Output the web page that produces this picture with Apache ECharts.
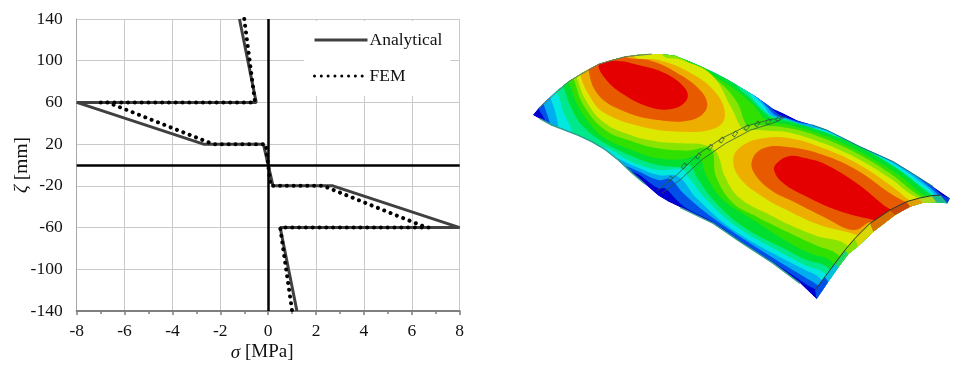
<!DOCTYPE html>
<html>
<head>
<meta charset="utf-8">
<style>
html, body { margin: 0; padding: 0; background: #fff; }
#main { width: 959px; height: 374px; }
</style>
<script src="https://cdn.jsdelivr.net/npm/echarts@6/dist/echarts.min.js"></script>
</head>
<body>
<div id="main"></div>
<script>
// left plot
const analyticalSigma = [-1.2, -0.5, -8, -2.7, -0.2, 0.2, 2.7, 8, 0.5, 1.2];
const analyticalZeta = [140, 60, 60, 20, 20, -20, -20, -60, -60, -140];
const femSigma = [-1.0, -0.55, -7.0, -6.7, -2.3, -0.1, 0.1, 2.3, 6.4, 6.7, 0.5, 1.0];
const femZeta = [140, 60, 60, 60, 20, 20, -20, -20, -58, -60, -60, -140];
const zetaTicks = [-140, -100, -60, -20, 20, 60, 100, 140];

// right plot: contour bands of the shell, lowest first.
// bands run past the outline where they leave the shell, the outline clips them
const arcInner = [[885,780],[915,740],[945,700],[975,660],[1005,625],[1050,580],[1110,540],[1160,515],[1195,505],[1235,497],[1262,495],[1290,505]];
const arcOuter = [[890,808],[925,755],[955,712],[985,672],[1015,648],[1060,605],[1125,555],[1170,530],[1210,518],[1250,517],[1282,520],[1290,505]];
const outline = [[38,255],[55,235],[75,215],[110,183],[145,155],[190,127],[235,103],[275,90],[315,80],[355,74],[395,72],[430,73],[465,77],[505,93],[545,110],[580,127],[615,145],[645,162],[675,180],[705,198],[730,215],[760,236],[790,250],[830,270],[875,284],[920,300],[970,325],[1020,350],[1070,372],[1120,395],[1180,432],[1240,470],[1290,505],[1282,520],[1250,517],[1210,518],[1170,530],[1125,555],[1060,605],[1015,648],[985,672],[955,712],[925,755],[890,808],[840,760],[800,729],[760,700],[710,667],[660,635],[620,607],[580,580],[530,556],[480,532],[445,515],[415,497],[375,463],[335,428],[295,390],[255,358],[215,335],[175,316],[135,299],[95,285],[65,270]];
const band1 = [[55,235],[30,170],[250,30],[600,80],[742,222],[775,252],[800,263],[850,277],[900,285],[1020,340],[1120,385],[1220,455],[1272,503],[1320,560],[1100,740],[950,800],[880,775],[810,730],[760,697],[660,632],[580,577],[500,535],[470,510],[435,475],[415,475],[335,425],[300,450],[100,330],[75,270]];
const band2 = [[70,220],[50,150],[250,30],[600,80],[722,210],[745,235],[765,255],[800,265],[845,280],[900,288],[1020,342],[1120,388],[1215,460],[1260,500],[1320,560],[1100,740],[950,800],[885,760],[810,715],[660,620],[560,550],[490,490],[450,447],[415,450],[335,415],[312,408],[250,420],[100,330],[90,280]];
const band3 = [[90,200],[60,140],[250,30],[600,80],[702,197],[730,225],[755,257],[800,269],[850,287],[920,303],[1020,353],[1120,400],[1225,475],[1245,496],[1320,560],[1100,740],[950,800],[895,740],[860,722],[810,697],[640,600],[530,505],[475,440],[415,435],[335,405],[285,383],[200,370],[100,330],[115,295]];
const band4 = [[110,185],[70,130],[250,30],[600,80],[685,187],[715,225],[750,255],[775,264],[810,272],[860,291],[920,308],[1020,360],[1130,418],[1235,492],[1320,560],[1100,740],[1000,790],[908,725],[860,708],[810,682],[650,590],[560,510],[505,440],[485,418],[415,420],[335,395],[245,348],[190,350],[130,330],[155,308],[130,245]];
const band5 = [[128,168],[90,110],[250,30],[600,80],[655,172],[690,205],[730,245],[760,265],[810,275],[910,305],[1010,346],[1130,415],[1225,490],[1320,560],[1100,740],[1000,790],[920,710],[860,690],[810,665],[670,590],[580,510],[530,440],[510,405],[490,410],[415,405],[340,380],[255,340],[185,285],[150,225]];
const band6 = [[145,155],[110,95],[300,20],[540,60],[560,118],[640,175],[700,225],[740,270],[810,285],[910,315],[1010,360],[1130,430],[1210,495],[1320,560],[1100,740],[1000,790],[935,695],[870,670],[810,640],[700,570],[610,510],[560,440],[535,378],[490,388],[415,385],[340,362],[255,325],[205,275],[170,220]];
const band7 = [[160,145],[130,80],[300,20],[480,50],[500,95],[590,150],[650,215],[680,285],[700,285],[810,295],[910,325],[1010,370],[1110,430],[1195,495],[1320,560],[1100,740],[1020,760],[955,675],[885,645],[810,610],[710,560],[640,520],[588,440],[572,358],[500,362],[415,355],[340,335],[255,300],[190,225]];
const band8 = [[170,140],[150,70],[300,20],[430,40],[430,78],[485,90],[575,135],[635,235],[670,300],[700,300],[750,302],[810,308],[910,340],[1010,385],[1110,445],[1180,497],[1320,560],[1100,740],[1040,740],[980,645],[890,618],[810,585],[760,560],[660,505],[615,440],[590,368],[555,345],[485,340],[415,335],[340,318],[255,280],[200,215]];
const band9a = [[180,128],[190,100],[340,50],[345,82],[415,90],[505,125],[585,185],[615,255],[585,295],[485,305],[365,290],[255,250],[210,200]];
const band9b = [[640,385],[660,445],[735,505],[810,545],[900,585],[1010,615],[1060,640],[1200,540],[1160,505],[1110,465],[1010,400],[910,355],[810,325],[730,325],[670,345]];
const band10a = [[205,115],[215,80],[300,55],[320,82],[385,90],[465,125],[545,185],[560,235],[515,270],[415,270],[315,245],[235,195]];
const band10b = [[695,395],[710,440],[760,485],[810,510],[910,560],[1000,600],[1055,575],[1100,590],[1180,530],[1145,510],[1110,490],[1010,420],[910,375],[810,352],[730,355]];
const band11a = [[237,103],[285,92],[355,105],[435,130],[495,175],[500,210],[455,237],[385,230],[305,190],[255,145]];
const band11b = [[762,420],[790,460],[860,500],[950,540],[1040,565],[1095,572],[1115,545],[1090,525],[1010,460],[910,400],[850,383],[810,378],[775,395]];
const bandShapes = [outline, band1, band2, band3, band4, band5, band6, band7, band8, band9a, band9b, band10a, band10b, band11a, band11b];
const bandColors = ['#0000d0', '#0050e8', '#00aef0', '#00e8e0', '#00e88c', '#00de30', '#30e000', '#88e400', '#dde800', '#eeae00', '#eeae00', '#e85a00', '#e85a00', '#e40000', '#e40000'];
const arcColors = ['#0050e8', '#00c0e0', '#20d860', '#88e000', '#d8d800', '#d87000', '#c84808', '#e0a000', '#a8d820', '#20b890', '#0040d8'];

// thin lines on the shell
const frontEdgeLeft = [[60,266],[95,285],[175,316],[215,335],[255,358],[295,390],[335,428],[375,462]];
const frontEdgeRight = [[480,532],[580,580],[660,635],[760,700],[840,760]];
const backEdge = [[875,284],[920,300],[1020,350],[1120,395],[1180,432],[1240,470]];
const backArc = [[60,232],[145,155],[235,103],[315,80],[395,72]];
const ribUpper = [[410,482],[470,435],[535,372],[605,325],[680,288],[745,270],[800,260]];
const ribLower = [[425,490],[482,448],[547,388],[617,340],[692,300],[757,280],[790,265]];
const ribCells = [[450,447],[492,408],[535,378],[570,352],[605,330],[645,312],[680,293],[712,282],[745,275],[775,265]];

const serif = '"Liberation Serif", "Times New Roman", serif';
const chart = echarts.init(document.getElementById('main'));

function pairs(xs, ys) {
	return xs.map(function (x, i) { return [x, ys[i]]; });
}

function thinLine(data, color, width) {
	return {
		type: 'line', xAxisIndex: 1, yAxisIndex: 1, data: data, symbol: 'none', silent: true, z: 6,
		lineStyle: { color: color, width: width }
	};
}

chart.setOption({
	backgroundColor: '#fff',
	animation: false,
	legend: {
		data: [{ name: 'Analytical', lineStyle: { width: 3 } }, { name: 'FEM', lineStyle: { width: 3 } }],
		left: 304,
		top: 21,
		orient: 'vertical',
		align: 'left',
		padding: [10, 8, 11, 9],
		backgroundColor: '#fff',
		itemWidth: 53,
		itemHeight: 14,
		itemGap: 18,
		itemStyle: { opacity: 0 },
		textStyle: { fontFamily: serif, fontSize: 17.5, color: '#111', padding: [0, 0, 0, -3] }
	},
	grid: [
		{ left: 76.7, top: 19, width: 383, height: 292 },
		{ left: 520, top: 30, width: 439, height: 280 }
	],
	xAxis: [{
		type: 'value', min: -8, max: 8, interval: 2,
		name: '{i|σ} [MPa]', nameLocation: 'middle', nameGap: 32, nameMoveOverlap: false,
		nameTextStyle: {
			fontFamily: serif, fontSize: 19, color: '#111', padding: [0, 12, 0, 0],
			rich: { i: { fontFamily: serif, fontStyle: 'italic', fontSize: 19, color: '#111' } }
		},
		axisLine: { onZero: false, lineStyle: { color: '#7f7f7f', width: 2 } },
		axisTick: { show: true, length: 4, lineStyle: { color: '#7f7f7f', width: 1.5 } },
		minorTick: { show: true, splitNumber: 2, length: 3, lineStyle: { color: '#7f7f7f', width: 1.5 } },
		splitLine: { show: true, lineStyle: { color: '#c9c9c9', width: 1 } },
		axisLabel: { fontFamily: serif, fontSize: 17.5, color: '#111', margin: 11 }
	}, {
		type: 'value', gridIndex: 1, min: 0, max: 1317, show: false
	}],
	yAxis: [{
		type: 'value', min: -140, max: 140,
		name: '{i|ζ} [mm]', nameLocation: 'middle', nameGap: 45, nameMoveOverlap: false,
		nameTextStyle: {
			fontFamily: serif, fontSize: 19.5, color: '#111',
			rich: { i: { fontFamily: serif, fontStyle: 'italic', fontSize: 19.5, color: '#111' } }
		},
		axisLine: { onZero: false, show: true, lineStyle: { color: '#a6a6a6', width: 1 } },
		axisTick: { show: false, customValues: zetaTicks },
		splitLine: { show: true, lineStyle: { color: '#c9c9c9', width: 1 } },
		axisLabel: { fontFamily: serif, fontSize: 17.5, color: '#111', margin: 14, customValues: zetaTicks }
	}, {
		type: 'value', gridIndex: 1, min: 0, max: 840, inverse: true, show: false
	}],
	series: [{
		name: 'Analytical',
		type: 'line',
		data: pairs(analyticalSigma, analyticalZeta),
		symbol: 'none',
		z: 3,
		lineStyle: { color: '#404040', width: 3 },
		itemStyle: { color: '#404040' },
		markLine: {
			silent: true,
			symbol: 'none',
			label: { show: false },
			lineStyle: { color: '#000', width: 2.5, type: 'solid' },
			data: [{ xAxis: 0 }, { yAxis: 0 }]
		}
	}, {
		name: 'FEM',
		type: 'line',
		data: pairs(femSigma, femZeta),
		symbol: 'none',
		z: 4,
		lineStyle: { color: '#000', width: 4, type: [0.01, 6.8], cap: 'round' },
		itemStyle: { color: '#000' }
	}, {
		type: 'custom',
		xAxisIndex: 1,
		yAxisIndex: 1,
		silent: true,
		clip: false,
		z: 5,
		data: bandShapes.map(function (s, i) { return [i]; }),
		renderItem: function (params, api) {
			const i = api.value(0);
			return {
				type: 'polygon',
				shape: { points: bandShapes[i].map(function (p) { return api.coord(p); }), smooth: i === 0 ? 0 : 0.4 },
				clipPath: { type: 'polygon', shape: { points: outline.map(function (p) { return api.coord(p); }) } },
				style: { fill: bandColors[i] }
			};
		}
	}, {
		type: 'custom',
		xAxisIndex: 1,
		yAxisIndex: 1,
		silent: true,
		clip: false,
		z: 5,
		data: arcColors.map(function (c, i) { return [i]; }),
		renderItem: function (params, api) {
			const i = api.value(0);
			return {
				type: 'polygon',
				shape: { points: [arcInner[i], arcInner[i + 1], arcOuter[i + 1], arcOuter[i]].map(function (p) { return api.coord(p); }) },
				style: { fill: arcColors[i] }
			};
		}
	},
	thinLine(frontEdgeLeft, '#2f9f8f', 1.5),
	thinLine(frontEdgeRight, '#2f9f8f', 1.5),
	thinLine(backEdge, '#1c7a78', 1),
	thinLine(backArc, '#5f8060', 1),
	thinLine(arcInner.slice(0, -1), '#2a3a30', 1),
	thinLine(ribUpper, '#2c5a40', 0.8),
	thinLine(ribLower, '#2c5a40', 0.8),
	{
		type: 'scatter', xAxisIndex: 1, yAxisIndex: 1, data: ribCells, silent: true, z: 6,
		symbol: 'rect', symbolSize: [3, 5], symbolRotate: -35,
		itemStyle: { color: 'rgba(0,0,0,0)', borderColor: '#2c5a40', borderWidth: 0.8 }
	}]
});
</script>
</body>
</html>
